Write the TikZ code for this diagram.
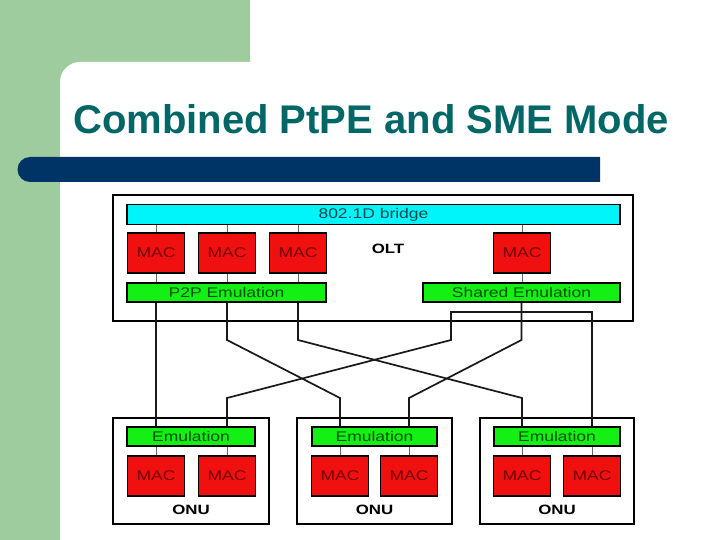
\documentclass[tikz,border=0pt]{standalone}
\usepackage{fontspec}
\setmainfont{Liberation Sans}
\newfontfamily\boxfont{Liberation Sans}[FakeStretch=1.25]
\usetikzlibrary{positioning}
\definecolor{slidegreen}{RGB}{158,204,158}
\definecolor{barblue}{RGB}{0,51,102}
\definecolor{titleteal}{RGB}{0,102,102}
\definecolor{bridgecyan}{RGB}{0,245,250}
\definecolor{macred}{RGB}{240,16,16}
\definecolor{emugreen}{RGB}{20,240,20}
\tikzset{
    x=1pt, y=-1pt,
    unitbox/.style={draw, line width=1.8, fill=white, inner sep=0},
    bridgebar/.style={draw, line width=1.4, fill=bridgecyan, minimum height=19pt,
        text=bridgecyan!30!black, font=\boxfont\fontsize{14}{16}\selectfont},
    macbox/.style={draw, line width=1.4, fill=macred, minimum width=57pt,
        minimum height=40pt, text=red!45!black, font=\boxfont\fontsize{14}{16}\selectfont},
    emubox/.style={draw, line width=1.4, fill=emugreen, minimum height=19pt,
        text=green!30!black, font=\boxfont\fontsize{14}{16}\selectfont},
    unitlabel/.style={font=\boxfont\fontsize{13.5}{15}\selectfont\bfseries},
    tap/.style={draw=black!60, line width=1},
    fibre/.style={draw=black!90, line width=1.7}
}

\begin{document}
\begin{tikzpicture}
    \useasboundingbox (0,0) rectangle (720,540);
    % slide background
    \fill[slidegreen] (0,0) rectangle (720,540);
    \fill[white] (60,540) -- (60,82) arc[start angle=180, end angle=270, radius=20]
        -- (250,62) -- (250,0) -- (720,0) -- (720,540) -- cycle;
    \fill[barblue] (600,157) -- (30,157) arc[start angle=270, end angle=90, radius=12.5]
        -- (600,182) -- cycle;
    \node[anchor=base west, text=titleteal, font=\fontsize{40}{44}\selectfont\bfseries, inner sep=0]
        (title) at (73,134) {Combined PtPE and SME Mode};

    % OLT
    \node[unitbox, minimum width=520pt, minimum height=126pt] (olt) at (373,258) {};
    \node[bridgebar, minimum width=493pt] (bridge) at (373.5,214.5) {802.1D bridge};
    \node[macbox] (m1) at (156,253) {MAC};
    \node[macbox] (m2) at (227,253) {MAC};
    \node[macbox] (m3) at (298,253) {MAC};
    \node[macbox] (m4) at (522,253) {MAC};
    \node[unitlabel] (oltlabel) at (388,249) {OLT};
    \node[emubox, minimum width=199pt] (p2p) at (226.5,292.5) {P2P Emulation};
    \node[emubox, minimum width=197pt] (shared) at (521.5,292.5) {Shared Emulation};

    % ONUs
    \node[unitbox, minimum width=156pt, minimum height=106pt] (onu1) at (191,471) {};
    \node[unitbox, minimum width=155pt, minimum height=106pt] (onu2) at (374.5,471) {};
    \node[unitbox, minimum width=154pt, minimum height=106pt] (onu3) at (557,471) {};
    \node[emubox, minimum width=128pt] (e1) at (191,436.5) {Emulation};
    \node[emubox, minimum width=125pt] (e2) at (374.5,436.5) {Emulation};
    \node[emubox, minimum width=126pt] (e3) at (557,436.5) {Emulation};
    \node[macbox] (u1m1) at (156,476) {MAC};
    \node[macbox] (u1m2) at (227,476) {MAC};
    \node[macbox] (u2m1) at (340,476) {MAC};
    \node[macbox] (u2m2) at (409,476) {MAC};
    \node[macbox] (u3m1) at (522,476) {MAC};
    \node[macbox] (u3m2) at (592,476) {MAC};
    \node[unitlabel] (onu1label) at (191,510) {ONU};
    \node[unitlabel] (onu2label) at (374.5,510) {ONU};
    \node[unitlabel] (onu3label) at (557,510) {ONU};

    % links inside the OLT
    \foreach \m/\e in {m1/p2p, m2/p2p, m3/p2p, m4/shared} {
        \draw[tap] (\m.north) -- (\m.north |- bridge.south);
        \draw[tap] (\m.south) -- (\m.south |- \e.north);
    }
    % links inside the ONUs
    \foreach \m/\e in {u1m1/e1, u1m2/e1, u2m1/e2, u2m2/e2, u3m1/e3, u3m2/e3}
        \draw[tap] (\m.north) -- (\m.north |- \e.south);

    % fibres
    \coordinate (upper) at (0,340);
    \coordinate (lower) at (0,398);
    \coordinate (splitL) at (451,312);
    \draw[fibre] (p2p.south -| m1) -- (e1.north -| u1m1);
    \draw[fibre] (p2p.south -| m2) -- (upper -| m2) -- (lower -| u2m1) -- (e2.north -| u2m1);
    \draw[fibre] (p2p.south -| m3) -- (upper -| m3) -- (lower -| u3m1) -- (e3.north -| u3m1);
    \draw[fibre] (shared.south) -- (upper -| shared) -- (lower -| u2m2) -- (e2.north -| u2m2);
    \draw[fibre] (e1.north -| u1m2) -- (lower -| u1m2) -- (upper -| splitL) -- (splitL)
        -- (splitL -| u3m2) -- (e3.north -| u3m2);
\end{tikzpicture}
\end{document}
